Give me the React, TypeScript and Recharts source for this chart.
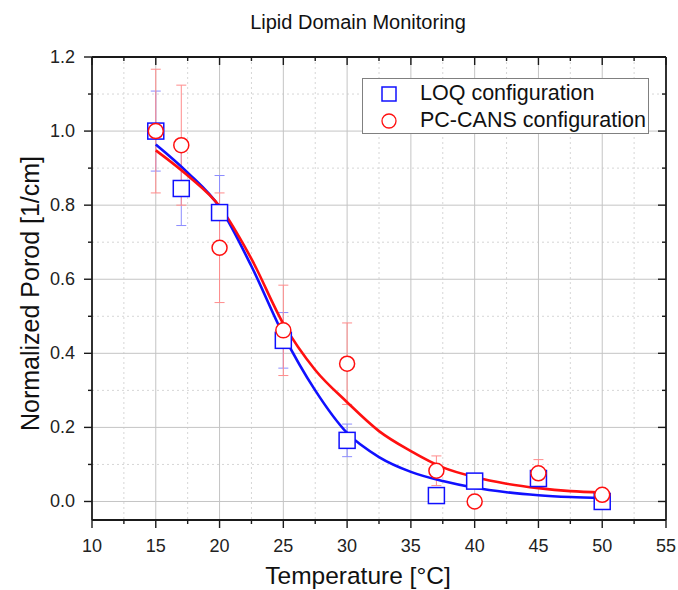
import React from 'react'
import {
  ComposedChart,
  Line,
  Scatter,
  ErrorBar,
  XAxis,
  YAxis,
  CartesianGrid,
  Legend,
} from 'recharts'

const FONT = '"Liberation Sans", Arial, Helvetica, sans-serif'
const AXIS = '#1a1a1a'
const BLUE = '#1010ff'
const RED = '#ff1010'

// measured points (temperature in °C)
const tempLoq = [15, 17, 20, 25, 30, 37, 40, 45, 50]
const porodLoq = [1.0, 0.845, 0.78, 0.435, 0.165, 0.016, 0.055, 0.062, 0.0]
const errLoq = [0.108, 0.1, 0.1, 0.075, 0.044, 0.015, 0.012, 0.012, 0.008]

const tempCans = [15, 17, 20, 25, 30, 37, 40, 45, 50]
const porodCans = [1.0, 0.962, 0.685, 0.462, 0.372, 0.083, 0.0, 0.076, 0.018]
const errCans = [0.167, 0.162, 0.148, 0.122, 0.11, 0.04, 0.0, 0.037, 0.0]

// sigmoid fits
const fitTemp = [15, 17.5, 20, 22.5, 25, 27.5, 30, 32.5, 35, 37.5, 40, 42.5, 45, 47.5, 50]
const fitLoq = [0.964, 0.888, 0.795, 0.635, 0.45, 0.3, 0.185, 0.12, 0.08, 0.055, 0.037, 0.025, 0.017, 0.012, 0.009]
const fitCans = [0.948, 0.88, 0.797, 0.655, 0.48, 0.355, 0.268, 0.19, 0.136, 0.092, 0.066, 0.048, 0.036, 0.028, 0.024]

// ticks
const xMajor = [10, 15, 20, 25, 30, 35, 40, 45, 50, 55]
const xMinor = [12.5, 17.5, 22.5, 27.5, 32.5, 37.5, 42.5, 47.5, 52.5]
const yMajor = [0, 0.2, 0.4, 0.6, 0.8, 1.0, 1.2]
const yMinor = [0.1, 0.3, 0.5, 0.7, 0.9, 1.1]

const xTicks = [...xMajor, ...xMinor].sort((a, b) => a - b)
const yTicks = [...yMajor, ...yMinor].sort((a, b) => a - b)

const loqData = tempLoq.map((x, i) => ({ x, y: porodLoq[i], err: errLoq[i] }))
const cansData = tempCans.map((x, i) => ({ x, y: porodCans[i], err: errCans[i] }))
const loqFit = fitTemp.map((x, i) => ({ x, y: fitLoq[i] }))
const cansFit = fitTemp.map((x, i) => ({ x, y: fitCans[i] }))

const isMajorX = (v: number) => v % 5 === 0
const isMajorY = (v: number) => Math.round(v * 10) % 2 === 0

const tickText = { fontFamily: FONT, fontSize: 18, fill: '#222' }

function BottomTick({ x, y, payload }: any) {
  const major = isMajorX(payload.value)
  return (
    <g>
      <line x1={x} x2={x} y1={y} y2={y + (major ? 8 : 4)} stroke={AXIS} strokeWidth={1.4} />
      {major && (
        <text x={x} y={y + 26} textAnchor="middle" dominantBaseline="central" {...tickText}>
          {payload.value}
        </text>
      )}
    </g>
  )
}

function TopTick({ x, y, payload }: any) {
  const major = isMajorX(payload.value)
  return <line x1={x} x2={x} y1={y} y2={y + (major ? 8 : 4)} stroke={AXIS} strokeWidth={1.4} />
}

function LeftTick({ x, y, payload }: any) {
  const major = isMajorY(payload.value)
  return (
    <g>
      <line x1={x} x2={x - (major ? 8 : 4)} y1={y} y2={y} stroke={AXIS} strokeWidth={1.4} />
      {major && (
        <text x={x - 17} y={y} textAnchor="end" dominantBaseline="central" {...tickText}>
          {payload.value.toFixed(1)}
        </text>
      )}
    </g>
  )
}

function RightTick({ x, y, payload }: any) {
  const major = isMajorY(payload.value)
  return <line x1={x} x2={x - (major ? 8 : 4)} y1={y} y2={y} stroke={AXIS} strokeWidth={1.4} />
}

const squareShape = (p: any) => (
  <rect x={p.cx - 8} y={p.cy - 8} width={16} height={16} fill="#fff" stroke={BLUE} strokeWidth={1.5} />
)
const circleShape = (p: any) => (
  <circle cx={p.cx} cy={p.cy} r={7.5} fill="#fff" stroke={RED} strokeWidth={1.5} />
)

function LegendBox({ payload }: any) {
  const items = (payload || []).filter((p: any) => p.type !== 'none')
  return (
    <div
      style={{
        border: '1px solid #808080',
        background: '#fff',
        width: 287,
        height: 56,
        boxSizing: 'border-box',
        paddingTop: 1,
        fontFamily: FONT,
        fontSize: 21.5,
        color: '#111',
      }}
    >
      {items.map((item: any) => (
        <div key={item.value} style={{ display: 'flex', alignItems: 'center', height: 27 }}>
          <svg width={20} height={20} style={{ marginLeft: 16, marginRight: 21 }}>
            {item.type === 'square' ? (
              <rect x={3} y={3} width={14} height={14} fill="none" stroke={BLUE} strokeWidth={1.5} />
            ) : (
              <circle cx={10} cy={10} r={7} fill="none" stroke={RED} strokeWidth={1.3} />
            )}
          </svg>
          <span style={{ whiteSpace: 'nowrap' }}>{item.value}</span>
        </div>
      ))}
    </div>
  )
}

const titleLabel = (props: any) => {
  const { x, y, width } = props.viewBox
  return (
    <text x={x + width / 2 - 21} y={y - 34} textAnchor="middle" dominantBaseline="central" fontFamily={FONT} fontSize={20} fill="#111">
      Lipid Domain Monitoring
    </text>
  )
}

const xTitle = (props: any) => {
  const { x, y, width, height } = props.viewBox
  return (
    <text x={x + width / 2 - 21} y={y + height - 15} textAnchor="middle" dominantBaseline="central" fontFamily={FONT} fontSize={24.5} fill="#111">
      Temperature [°C]
    </text>
  )
}

const yTitle = (props: any) => {
  const { x, y, height } = props.viewBox
  const cx = x + 30
  const cy = y + height / 2 + 5
  return (
    <text x={cx} y={cy} transform={`rotate(-90 ${cx} ${cy})`} textAnchor="middle" dominantBaseline="central" fontFamily={FONT} fontSize={25} fill="#111">
      Normalized Porod [1/cm]
    </text>
  )
}

export default function App() {
  return (
    <div style={{ position: 'absolute', top: 0, left: 0, width: 678, height: 590, background: '#fff' }}>
      <ComposedChart width={678} height={590} margin={{ top: 56, right: 11, bottom: 0, left: 0 }}>
        <CartesianGrid
          verticalValues={xMinor}
          horizontalValues={yMinor}
          stroke="#d6d6d6"
          strokeDasharray="2 3"
        />
        <CartesianGrid
          verticalValues={xMajor.slice(1, -1)}
          horizontalValues={yMajor.slice(0, -1)}
          stroke="#c4c4c4"
        />
        <XAxis
          dataKey="x"
          type="number"
          domain={[10, 55]}
          ticks={xTicks}
          interval={0}
          height={70}
          tickSize={0}
          tickMargin={0}
          tickLine={false}
          tick={BottomTick}
          axisLine={{ stroke: AXIS, strokeWidth: 1.8 }}
          allowDataOverflow
          label={{ content: xTitle }}
        />
        <XAxis
          xAxisId="top"
          orientation="top"
          dataKey="x"
          type="number"
          domain={[10, 55]}
          ticks={xTicks}
          interval={0}
          height={1}
          tickSize={0}
          tickMargin={0}
          tickLine={false}
          tick={TopTick}
          axisLine={{ stroke: AXIS, strokeWidth: 1.8 }}
          allowDataOverflow
          label={{ content: titleLabel }}
        />
        <YAxis
          type="number"
          domain={[-0.05, 1.2]}
          ticks={yTicks}
          interval={0}
          width={92}
          tickSize={0}
          tickMargin={0}
          tickLine={false}
          tick={LeftTick}
          axisLine={{ stroke: AXIS, strokeWidth: 1.8 }}
          allowDataOverflow
          label={{ content: yTitle }}
        />
        <YAxis
          yAxisId="right"
          orientation="right"
          type="number"
          domain={[-0.05, 1.2]}
          ticks={yTicks}
          interval={0}
          width={1}
          tickSize={0}
          tickMargin={0}
          tickLine={false}
          tick={RightTick}
          axisLine={{ stroke: AXIS, strokeWidth: 1.8 }}
          allowDataOverflow
        />
        <Scatter
          name="LOQ configuration"
          data={loqData}
          dataKey="y"
          shape={squareShape}
          legendType="square"
          fill={BLUE}
          isAnimationActive={false}
        >
          <ErrorBar dataKey="err" direction="y" width={5} stroke="#8c8cff" strokeWidth={1} />
        </Scatter>
        <Scatter
          name="PC-CANS configuration"
          data={cansData}
          dataKey="y"
          shape={circleShape}
          legendType="circle"
          fill={RED}
          isAnimationActive={false}
        >
          <ErrorBar dataKey="err" direction="y" width={5} stroke="#ff8c8c" strokeWidth={1} />
        </Scatter>
        <Line
          data={loqFit}
          dataKey="y"
          type="monotone"
          stroke={BLUE}
          strokeWidth={2.6}
          dot={false}
          activeDot={false}
          legendType="none"
          isAnimationActive={false}
        />
        <Line
          data={cansFit}
          dataKey="y"
          type="monotone"
          stroke={RED}
          strokeWidth={2.6}
          dot={false}
          activeDot={false}
          legendType="none"
          isAnimationActive={false}
        />
        <Legend
          layout="horizontal"
          align="center"
          verticalAlign="middle"
          content={LegendBox}
          wrapperStyle={{ top: 78, left: 362, width: 287, height: 56 }}
        />
      </ComposedChart>
    </div>
  )
}
